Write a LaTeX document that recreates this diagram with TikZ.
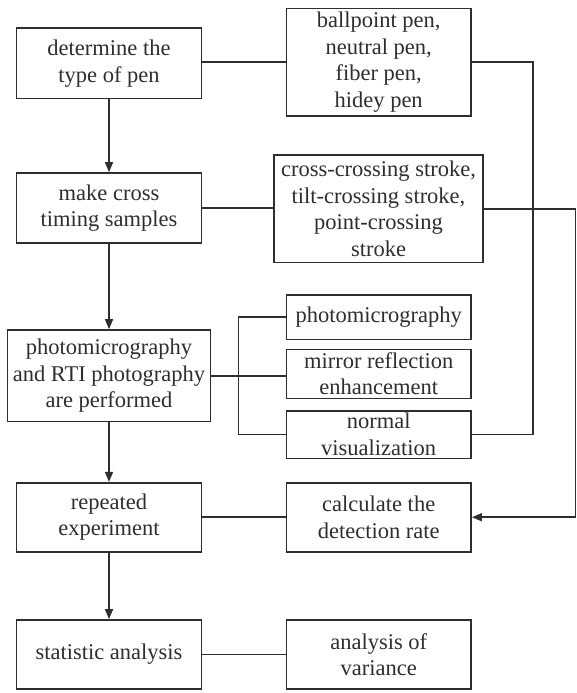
\documentclass[tikz,border=0pt]{standalone}
\usepackage{fontspec}
\setmainfont{Liberation Serif}
\usetikzlibrary{arrows.meta}
\definecolor{ink}{HTML}{2E2E2E}
\begin{document}
\begin{tikzpicture}[x=1pt,y=-1pt,
 box/.style={draw=ink, line width=1.6pt, inner sep=0pt, align=center, text=ink,
   font=\fontsize{22.5}{26.7}\selectfont, anchor=center},
 link/.style={draw=ink, line width=1.5pt},
 arr/.style={link, -{Triangle[length=10pt,width=8pt]}}]
\useasboundingbox (0,0) rectangle (577,693);
% left column
\node[box, minimum width=184.7pt, minimum height=70pt] (A) at (109,63.3) {determine the\\type of pen};
\node[box, minimum width=184.7pt, minimum height=70pt] (C) at (109,208) {make cross\\timing samples};
\node[box, minimum width=203pt, minimum height=91.7pt] (E) at (109,375.8) {photomicrography\\and RTI photography\\are performed};
\node[box, minimum width=184.7pt, minimum height=69pt] (I) at (109,517.2) {repeated\\experiment};
\node[box, minimum width=184.7pt, minimum height=69.3pt] (K) at (109,654.6) {statistic analysis};
% right column
\node[box, minimum width=184.8pt, minimum height=107.7pt] (B) at (378.7,62.2) {ballpoint pen,\\neutral pen,\\fiber pen,\\hidey pen};
\node[box, minimum width=208.7pt, minimum height=107.7pt] (D) at (378.5,208.8) {cross-crossing stroke,\\tilt-crossing stroke,\\point-crossing\\stroke};
\node[box, minimum width=184.8pt, minimum height=44.3pt] (F) at (378.7,317.2) {photomicrography};
\node[box, minimum width=184.8pt, minimum height=49pt] (G) at (378.7,373.8) {mirror reflection\\enhancement};
\node[box, minimum width=184.8pt, minimum height=47.6pt] (H) at (378.7,434.5) {normal\\visualization};
\node[box, minimum width=184.8pt, minimum height=69pt] (J) at (378.7,517.2) {calculate the\\detection rate};
\node[box, minimum width=184.8pt, minimum height=69.3pt] (L) at (378.7,654.6) {analysis of\\variance};
\coordinate (bend1) at (533,62.2);
\coordinate (bend2) at (575.5,208.8);
\coordinate (brk) at (238.5,317.2);
% vertical flow
\draw[arr] (A.south) -- (C.north);
\draw[arr] (C.south) -- (E.north);
\draw[arr] (E.south) -- (I.north);
\draw[arr] (I.south) -- (K.north);
% horizontal links
\draw[link] (A.east |- B.west) -- (B.west);
\draw[link] (C.east) -- (C.east -| D.west);
\draw[link] (E.east) -- (E.east -| G.west);
\draw[link] (I.east) -- (J.west);
\draw[link] (K.east) -- (L.west);
% bracket
\draw[link] (F.west) -- (brk) |- (H.west);
% loops to the right
\draw[link] (B.east) -- (bend1) |- (H.east);
\draw[arr] (D.east) -- (bend2) |- (J.east);
\end{tikzpicture}
\end{document}
